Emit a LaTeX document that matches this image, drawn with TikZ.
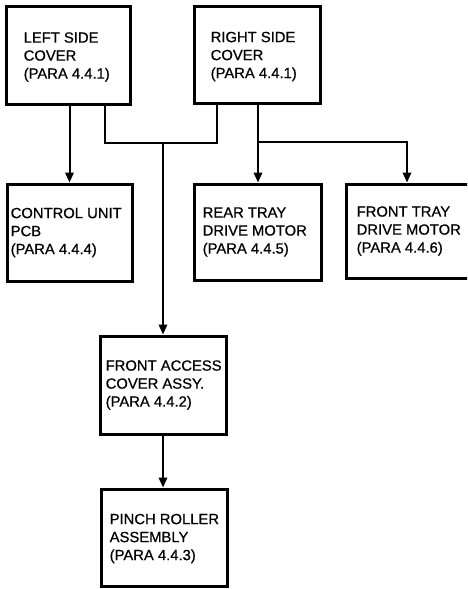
\documentclass[tikz,border=0pt]{standalone}
\usepackage{fontspec}
\setmainfont{Liberation Sans}
\newfontfamily\lblfont{Liberation Sans}[BoldFont={Liberation Sans},BoldFeatures={FakeBold=0.7}]
\usetikzlibrary{arrows.meta}
\tikzset{
  box/.style={draw=black, line width=3pt, rectangle, inner sep=0pt},
  lbl/.style={anchor=west, align=left, inner sep=0pt, font=\lblfont\bfseries\fontsize{14.8pt}{18pt}\selectfont},
  conn/.style={draw=black, line width=2pt},
  arr/.style={conn, -{Triangle[width=8.5pt,length=10pt]}}
}
\begin{document}
\begin{tikzpicture}[x=1pt,y=-1pt]
\useasboundingbox (0,0) rectangle (467,589);
\clip (0,0) rectangle (467,589);
% boxes
\node[box, minimum width=124pt, minimum height=98pt] (lsc) at (68,55) {};
\node[box, minimum width=126pt, minimum height=97pt] (rsc) at (257,54.5) {};
\node[box, minimum width=125pt, minimum height=97pt] (cu) at (69.5,232.5) {};
\node[box, minimum width=127pt, minimum height=96pt] (rt) at (257.5,232) {};
\node[box, minimum width=150pt, minimum height=94pt] (ft) at (421,231) {};
\node[box, minimum width=126pt, minimum height=98pt] (fa) at (163,385) {};
\node[box, minimum width=126pt, minimum height=97pt] (pr) at (164,537.5) {};
% texts
\node[lbl] (lscT) at ([xshift=19pt,yshift=-2pt]lsc.west) {LEFT SIDE\\COVER\\(PARA 4.4.1)};
\node[lbl] (rscT) at ([xshift=18pt,yshift=-2pt]rsc.west) {RIGHT SIDE\\COVER\\(PARA 4.4.1)};
\node[lbl] (cuT) at ([xshift=5pt]cu.west) {CONTROL UNIT\\PCB\\(PARA 4.4.4)};
\node[lbl] (rtT) at ([xshift=10pt]rt.west) {REAR TRAY\\DRIVE MOTOR\\(PARA 4.4.5)};
\node[lbl] (ftT) at ([xshift=12pt]ft.west) {FRONT TRAY\\DRIVE MOTOR\\(PARA 4.4.6)};
\node[lbl] (faT) at ([xshift=7pt]fa.west) {FRONT ACCESS\\COVER ASSY.\\(PARA 4.4.2)};
\node[lbl] (prT) at ([xshift=10pt,yshift=-1pt]pr.west) {PINCH ROLLER\\ASSEMBLY\\(PARA 4.4.3)};
% connectors
\coordinate (j1) at (163,143);
\coordinate (j2) at (258,142);
\coordinate (j3) at (407,142);
\draw[arr] (lsc.south -| cu.north) -- (cu.north);
\draw[conn] ([xshift=37pt]lsc.south) |- (j1) -| ([xshift=-40pt]rsc.south);
\draw[arr] (j1) -- (fa.north);
\draw[arr] (rsc.south -| j2) -- (rt.north -| j2);
\draw[arr] (j2) -- (j3) -- (ft.north -| j3);
\draw[arr] (fa.south) -- (fa.south |- pr.north);
\end{tikzpicture}
\end{document}
